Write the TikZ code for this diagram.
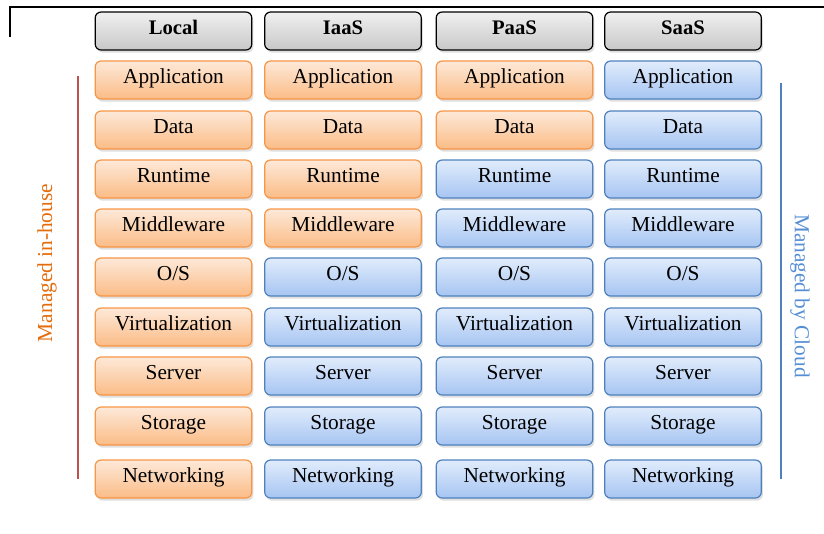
\documentclass[tikz,border=0pt]{standalone}
\usepackage{fontspec}
\setmainfont{Liberation Serif}
\usepackage{xcolor}
\usetikzlibrary{shadows}

\definecolor{orline}{HTML}{F79646}
\definecolor{ortop}{HTML}{FDE9D9}
\definecolor{orbot}{HTML}{FBBC86}
\definecolor{blline}{HTML}{4F81BD}
\definecolor{bltop}{HTML}{E1ECFC}
\definecolor{blbot}{HTML}{A6C5F2}
\definecolor{hdtop}{HTML}{F0F0F0}
\definecolor{hdbot}{HTML}{C8C8C8}
\definecolor{redline}{HTML}{C0504D}
\definecolor{ortext}{HTML}{E46C0A}
\definecolor{bltext}{HTML}{558ED5}

\begin{document}
\begin{tikzpicture}[x=0.75pt,y=-0.75pt,
  layer/.style={rectangle,rounded corners=4.5pt,minimum width=117.5pt,minimum height=28.5pt,
    text height=1.55ex,text depth=0.3ex,font=\fontsize{16}{18}\selectfont,line width=0.9pt,
    drop shadow={shadow xshift=1.2pt,shadow yshift=-2pt,opacity=0.25}},
  house/.style={layer,draw=orline,top color=ortop,bottom color=orbot},
  cloud/.style={layer,draw=blline,top color=bltop,bottom color=blbot},
  head/.style={layer,draw=black,top color=hdtop,bottom color=hdbot,font=\fontsize{15.5}{18}\selectfont\bfseries}]
  \useasboundingbox (0,0) rectangle (824,533);
  % frame
  \draw[line width=0.8pt] (10,37) -- (10,7) -- (824,7);
  % column heads
  \node[head] (hloc) at (173.5,31){Local};
  \node[head] (hiaas) at (343,31){IaaS};
  \node[head] (hpaas) at (514.5,31){PaaS};
  \node[head] (hsaas) at (683,31){SaaS};
  % stack, the first n rows managed in-house
  \foreach \col/\x/\n in {1/173.5/9,2/343/4,3/514.5/2,4/683/0}{
    \foreach \row/\y/\txt in {1/80/Application,2/130/Data,3/179/Runtime,4/228/Middleware,
      5/277/{O/S},6/327/Virtualization,7/376/Server,8/426/Storage,9/479/Networking}{
      \ifnum\row>\n
        \node[cloud] (c\col r\row) at (\x,\y){\txt};
      \else
        \node[house] (c\col r\row) at (\x,\y){\txt};
      \fi
    }
  }
  % side labels
  \coordinate (lt) at (78,76);
  \coordinate (lb) at (78,479);
  \coordinate (rt) at (781,83);
  \coordinate (rb) at (781,479);
  \draw[redline,line width=0.9pt] (lt) -- (lb);
  \draw[blline,line width=0.9pt] (rt) -- (rb);
  \node[rotate=90,text=ortext,font=\fontsize{16}{18}\selectfont] (inh) at (47,263){Managed in-house};
  \node[rotate=-90,text=bltext,font=\fontsize{16}{18}\selectfont] (cld) at (800,296){Managed by Cloud};
\end{tikzpicture}
\end{document}
